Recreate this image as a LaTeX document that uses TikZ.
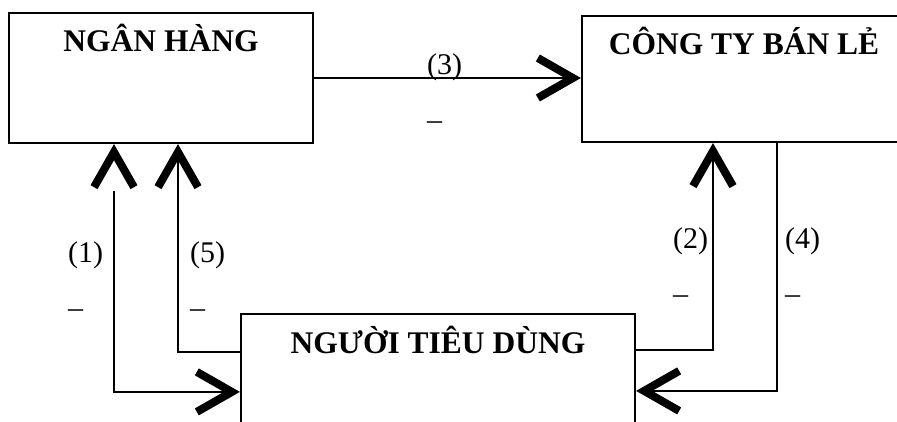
\documentclass[tikz,border=0pt]{standalone}
\usepackage{fontspec}
\setmainfont{Liberation Serif}
\usepackage{tikz}
\usetikzlibrary{arrows.meta, positioning, calc}

\tikzset{
  box/.style={draw, line width=2.2pt, inner sep=0pt, text height=39pt,
    font=\fontsize{31.5}{36}\selectfont\bfseries},
  flow/.style={line width=1.4pt},
  tag/.style={align=left, anchor=north west, inner sep=0pt,
    font=\fontsize{30}{55}\selectfont},
  head/.tip={Straight Barb[length=35pt, width=40pt, line width=8pt, sharp]},
}

\begin{document}
\begin{tikzpicture}[x=1pt, y=1pt]
    \useasboundingbox (0,0) rectangle (897,421);

    % the three parties
    \node[box, minimum width=304pt, text depth=91pt] (bank) at (161, 343) {NGÂN HÀNG};
    \node[box, minimum width=324pt, text depth=87pt] (retail) at (744, 342) {CÔNG TY BÁN LẺ};
    \node[box, minimum width=394pt, text depth=97pt] (buyer) at (438, 39) {NGƯỜI TIÊU DÙNG};

    % flows between them
    \draw[flow, -{head[] .}] (bank.east) -- (bank.east -| retail.west);
    \draw[flow, {head[] .}-{head[] .}] ([xshift=-47pt]bank.south) |- ([yshift=-79pt]buyer.north west);
    \draw[flow, -{head[] .}] ([yshift=-39pt]buyer.north west) -| ([xshift=17pt]bank.south);
    \draw[flow, -{head[] .}] ([yshift=-37pt]buyer.north east) -| ([xshift=-31pt]retail.south);
    \draw[flow, -{head[] .}] ([xshift=33pt]retail.south) |- ([yshift=-78pt]buyer.north east);

    % step numbers
    \node[tag] (n1) at (68, 180) {(1)\\–};
    \node[tag] (n5) at (190, 180) {(5)\\–};
    \node[tag] (n3) at (427, 368) {(3)\\–};
    \node[tag] (n2) at (673, 194) {(2)\\–};
    \node[tag] (n4) at (785, 194) {(4)\\–};
\end{tikzpicture}
\end{document}
